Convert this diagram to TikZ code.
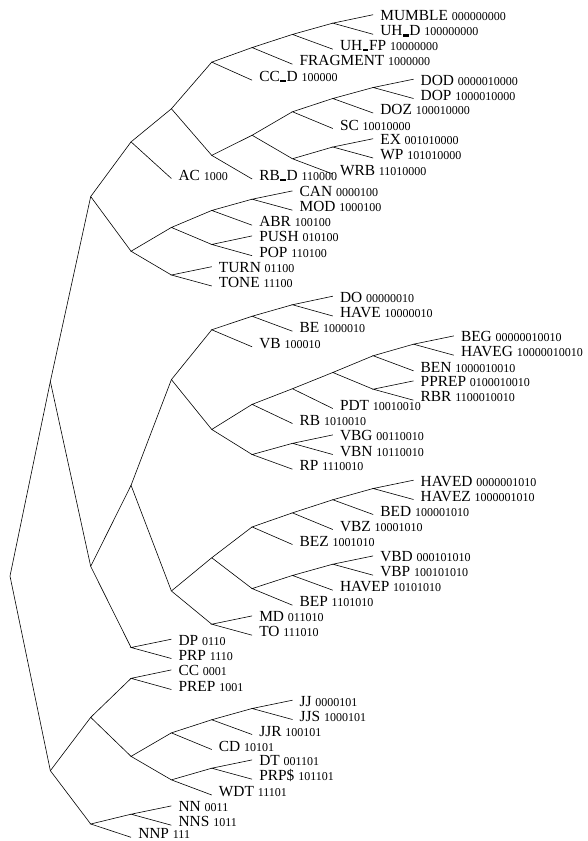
\documentclass[tikz,border=0pt]{standalone}
\usepackage{fontspec}
\setmainfont{Liberation Serif}
\usetikzlibrary{calc}
\tikzset{
  ln/.style={line width=0.6pt, black},
  lab/.style={anchor=west, inner sep=0pt, text height=10.2pt, text depth=0pt,
              font=\fontsize{15.4}{15.4}\selectfont}
}
\newcommand\ubar{\kern0.6pt\rule[-0.6pt]{5.6pt}{2.1pt}\kern0.6pt}
\newcommand\dg[1]{{\fontsize{12}{12}\selectfont #1}}
\newcommand\lf[5]{\coordinate (#1) at ({10+40.35*#2},#3);
  \node[lab] (t#1) at ([xshift=7pt]#1) {#4 \dg{#5}};}
\newcommand\jn[4]{\path let \p1=($(#3)!.5!(#4)$) in coordinate (#1) at ({(10+40.35*#2)*1pt},\y1);}
\newcommand\JLL[4]{\jn{#1}{#2}{#3}{#4}\draw[ln] ([yshift=0.8pt]#3) -- (#1) -- ([yshift=-3.5pt]#4);}
\newcommand\JIL[4]{\jn{#1}{#2}{#3}{#4}\draw[ln] (#3) -- (#1) -- ([yshift=-3.5pt]#4);}
\newcommand\JII[4]{\jn{#1}{#2}{#3}{#4}\draw[ln] (#3) -- (#1) -- (#4);}
\begin{document}
\begin{tikzpicture}[x=1pt,y=-1pt]
\useasboundingbox (0,0) rectangle (588,841);
% leaves
\lf{MUMBLE}{9}{15.5}{MUMBLE}{000000000}
\lf{UHD}{9}{30.8}{UH\ubar D}{100000000}
\lf{UHFP}{8}{45.7}{UH\ubar FP}{10000000}
\lf{FRAGMENT}{7}{60.7}{FRAGMENT}{1000000}
\lf{CCD}{6}{76.7}{CC\ubar D}{100000}
\lf{DOD}{10}{80}{DOD}{0000010000}
\lf{DOP}{10}{95}{DOP}{1000010000}
\lf{DOZ}{9}{109.5}{DOZ}{100010000}
\lf{SC}{8}{125}{SC}{10010000}
\lf{EX}{9}{139.5}{EX}{001010000}
\lf{WP}{9}{154.5}{WP}{101010000}
\lf{WRB}{8}{170.5}{WRB}{11010000}
\lf{AC}{4}{175}{AC}{1000}
\lf{RBD}{6}{175.5}{RB\ubar D}{110000}
\lf{CAN}{7}{191.7}{CAN}{0000100}
\lf{MOD}{7}{206.7}{MOD}{1000100}
\lf{ABR}{6}{221.7}{ABR}{100100}
\lf{PUSH}{6}{236.7}{PUSH}{010100}
\lf{POP}{6}{252.2}{POP}{110100}
\lf{TURN}{5}{267.5}{TURN}{01100}
\lf{TONE}{5}{282.5}{TONE}{11100}
\lf{DO}{8}{297}{DO}{00000010}
\lf{HAVE}{8}{312.5}{HAVE}{10000010}
\lf{BE}{7}{327.7}{BE}{1000010}
\lf{VB}{6}{343.3}{VB}{100010}
\lf{BEG}{11}{336.7}{BEG}{00000010010}
\lf{HAVEG}{11}{351.7}{HAVEG}{10000010010}
\lf{BEN}{10}{367.3}{BEN}{1000010010}
\lf{PPREP}{10}{381.7}{PPREP}{0100010010}
\lf{RBR}{10}{396.7}{RBR}{1100010010}
\lf{PDT}{8}{405}{PDT}{10010010}
\lf{RB}{7}{420}{RB}{1010010}
\lf{VBG}{8}{435.7}{VBG}{00110010}
\lf{VBN}{8}{451}{VBN}{10110010}
\lf{RP}{7}{465.7}{RP}{1110010}
\lf{HAVED}{10}{481}{HAVED}{0000001010}
\lf{HAVEZ}{10}{496}{HAVEZ}{1000001010}
\lf{BED}{9}{511}{BED}{100001010}
\lf{VBZ}{8}{526}{VBZ}{10001010}
\lf{BEZ}{7}{541}{BEZ}{1001010}
\lf{VBD}{9}{556.7}{VBD}{000101010}
\lf{VBP}{9}{571.7}{VBP}{100101010}
\lf{HAVEP}{8}{586.7}{HAVEP}{10101010}
\lf{BEP}{7}{601.7}{BEP}{1101010}
\lf{MD}{6}{616.7}{MD}{011010}
\lf{TO}{6}{631.7}{TO}{111010}
\lf{DP}{4}{640}{DP}{0110}
\lf{PRP}{4}{655}{PRP}{1110}
\lf{CC}{4}{670.7}{CC}{0001}
\lf{PREP}{4}{686}{PREP}{1001}
\lf{JJ}{7}{701}{JJ}{0000101}
\lf{JJS}{7}{716}{JJS}{1000101}
\lf{JJR}{6}{731}{JJR}{100101}
\lf{CD}{5}{746}{CD}{10101}
\lf{DT}{6}{760.7}{DT}{001101}
\lf{PRPS}{6}{775.7}{PRP\$}{101101}
\lf{WDT}{5}{791.5}{WDT}{11101}
\lf{NN}{4}{806.7}{NN}{0011}
\lf{NNS}{4}{821.7}{NNS}{1011}
\lf{NNP}{3}{833.8}{NNP}{111}
% internal nodes and connectors
\JLL{n00000000}{8}{MUMBLE}{UHD}
\JIL{n0000000}{7}{n00000000}{UHFP}
\JIL{n000000}{6}{n0000000}{FRAGMENT}
\JIL{n00000}{5}{n000000}{CCD}
\JLL{n000010000}{9}{DOD}{DOP}
\JIL{n00010000}{8}{n000010000}{DOZ}
\JIL{n0010000}{7}{n00010000}{SC}
\JLL{n01010000}{8}{EX}{WP}
\JIL{n1010000}{7}{n01010000}{WRB}
\JII{n010000}{6}{n0010000}{n1010000}
\JIL{n10000}{5}{n010000}{RBD}
\JII{n0000}{4}{n00000}{n10000}
\JIL{n000}{3}{n0000}{AC}
\JLL{n000100}{6}{CAN}{MOD}
\JIL{n00100}{5}{n000100}{ABR}
\JLL{n10100}{5}{PUSH}{POP}
\JII{n0100}{4}{n00100}{n10100}
\JLL{n1100}{4}{TURN}{TONE}
\JII{n100}{3}{n0100}{n1100}
\JII{n00}{2}{n000}{n100}
\JLL{n0000010}{7}{DO}{HAVE}
\JIL{n000010}{6}{n0000010}{BE}
\JIL{n00010}{5}{n000010}{VB}
\JLL{n0000010010}{10}{BEG}{HAVEG}
\JIL{n000010010}{9}{n0000010010}{BEN}
\JLL{n100010010}{9}{PPREP}{RBR}
\JII{n00010010}{8}{n000010010}{n100010010}
\JIL{n0010010}{7}{n00010010}{PDT}
\JIL{n010010}{6}{n0010010}{RB}
\JLL{n0110010}{7}{VBG}{VBN}
\JIL{n110010}{6}{n0110010}{RP}
\JII{n10010}{5}{n010010}{n110010}
\JII{n0010}{4}{n00010}{n10010}
\JLL{n000001010}{9}{HAVED}{HAVEZ}
\JIL{n00001010}{8}{n000001010}{BED}
\JIL{n0001010}{7}{n00001010}{VBZ}
\JIL{n001010}{6}{n0001010}{BEZ}
\JLL{n00101010}{8}{VBD}{VBP}
\JIL{n0101010}{7}{n00101010}{HAVEP}
\JIL{n101010}{6}{n0101010}{BEP}
\JII{n01010}{5}{n001010}{n101010}
\JLL{n11010}{5}{MD}{TO}
\JII{n1010}{4}{n01010}{n11010}
\JII{n010}{3}{n0010}{n1010}
\JLL{n110}{3}{DP}{PRP}
\JII{n10}{2}{n010}{n110}
\JII{n0}{1}{n00}{n10}
\JLL{n001}{3}{CC}{PREP}
\JLL{n000101}{6}{JJ}{JJS}
\JIL{n00101}{5}{n000101}{JJR}
\JIL{n0101}{4}{n00101}{CD}
\JLL{n01101}{5}{DT}{PRPS}
\JIL{n1101}{4}{n01101}{WDT}
\JII{n101}{3}{n0101}{n1101}
\JII{n01}{2}{n001}{n101}
\JLL{n011}{3}{NN}{NNS}
\JIL{n11}{2}{n011}{NNP}
\JII{n1}{1}{n01}{n11}
\JII{root}{0}{n0}{n1}
\end{tikzpicture}
\end{document}
